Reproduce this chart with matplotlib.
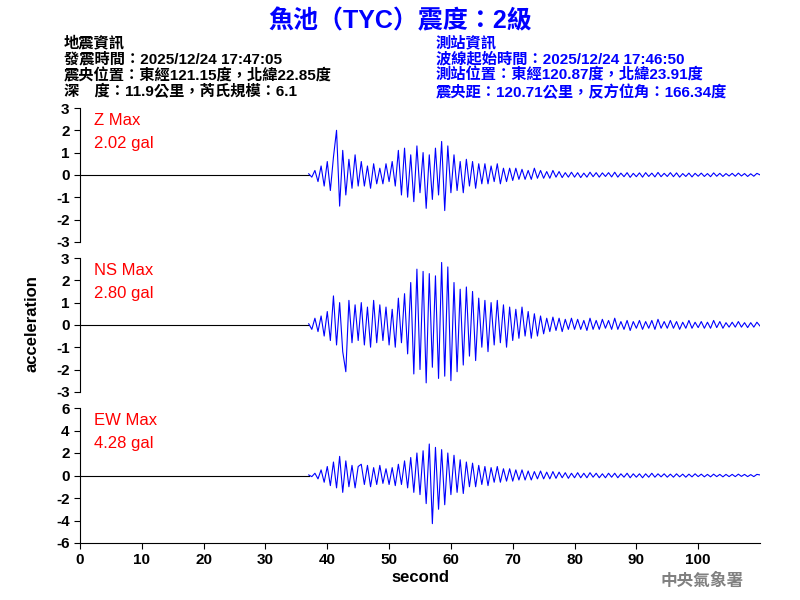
import numpy as np
import matplotlib.pyplot as plt

plt.rcParams['font.family'] = ['Liberation Sans', 'Noto Sans CJK TC', 'DejaVu Sans']
plt.rcParams['axes.unicode_minus'] = False
plt.rcParams['font.weight'] = 'bold'
plt.rcParams['axes.labelweight'] = 'bold'

t_start, dt = 37.0, 0.5

z_vals = [0.05, -0.1, 0.2, -0.3, 0.4, -0.5, 0.6,
          -0.7, 0.8, 2.0, -1.4, 1.1, -0.9, 0.7, -0.6, 0.9, -0.5,
          0.6, -0.5, 0.4, -0.6, 0.5, -0.4, 0.3, -0.4, 0.5, -0.3,
          0.6, -0.5, 1.1, -0.9, 1.2, -1.0, 0.9, -1.2, 1.3, -0.8,
          1.0, -1.5, 0.9, -1.1, 1.2, -0.9, 1.5, -1.6, 1.3, -0.8,
          0.9, -0.7, 0.6, -0.8, 0.7, -0.5, 0.6, -0.6, 0.5, -0.4,
          0.5, -0.4, 0.4, -0.3, 0.5, -0.4, 0.3, -0.3, 0.3, -0.25,
          0.3, -0.2, 0.25, -0.2, 0.2, -0.2, 0.3, -0.15, 0.2, -0.15,
          0.15, -0.15, 0.2, -0.1, 0.15, -0.12, 0.1, -0.1, 0.12, -0.1,
          0.1, -0.12, 0.08, -0.1, 0.12, -0.08, 0.1, -0.1, 0.09, -0.07,
          0.1, -0.09, 0.12, -0.1, 0.08, -0.08, 0.1, -0.11, 0.07, -0.08,
          0.09, -0.1, 0.1, -0.07, 0.08, -0.09, 0.11, -0.08, 0.07, -0.07,
          0.1, -0.08, 0.09, -0.1, 0.06, -0.07, 0.08, -0.09, 0.07, -0.06,
          0.08, -0.07, 0.06, -0.08, 0.09, -0.06, 0.07, -0.07, 0.06, -0.05,
          0.07, -0.06, 0.08, -0.05, 0.06, -0.07, 0.05, -0.06, 0.07, 0.0]

ns_vals = [0.05, -0.2, 0.3, -0.3, 0.4, -0.5, 0.6,
           -0.7, 1.3, -0.9, 1.0, -1.2, -2.1, 1.1, -0.8, 0.9, -0.7,
           1.0, -0.9, 0.8, -1.0, 1.1, -0.8, 0.9, -0.7, 0.8, -0.9,
           0.7, -1.0, 1.2, -0.8, 1.4, -1.3, 1.9, -2.2, 2.5, -2.0,
           2.4, -2.6, 2.3, -1.9, 2.2, -2.4, 2.8, -2.3, 2.6, -2.5,
           1.9, -2.1, 1.6, -1.8, 1.7, -1.4, 1.5, -1.6, 1.2, -1.0,
           1.1, -1.2, 1.0, -0.9, 1.1, -0.8, 0.9, -1.0, 0.8, -0.7,
           0.7, -0.6, 0.8, -0.5, 0.6, -0.6, 0.5, -0.5, 0.4, -0.4,
           0.3, -0.3, 0.35, -0.25, 0.3, -0.3, 0.25, -0.2, 0.3, -0.2,
           0.25, -0.2, 0.2, -0.25, 0.3, -0.2, 0.2, -0.2, 0.25, -0.15,
           0.2, -0.2, 0.3, -0.2, 0.15, -0.2, 0.2, -0.25, 0.15, -0.15,
           0.2, -0.2, 0.15, -0.15, 0.2, -0.2, 0.25, -0.15, 0.15, -0.15,
           0.2, -0.15, 0.15, -0.2, 0.12, -0.15, 0.2, -0.15, 0.12, -0.12,
           0.15, -0.15, 0.12, -0.15, 0.2, -0.12, 0.15, -0.15, 0.1, -0.1,
           0.12, -0.1, 0.15, -0.1, 0.1, -0.12, 0.1, -0.1, 0.12, -0.05]

ew_vals = [0.05, -0.1, 0.2, -0.3, 0.5, -0.6, 0.8,
           -0.9, 1.2, -1.1, 1.7, -1.5, 1.3, -1.0, 0.9, -1.1, 0.8,
           1.0, -0.8, 0.9, -1.0, 0.7, -0.8, 0.9, -0.7, 0.6, -0.8,
           0.7, -0.9, 1.0, -0.8, 1.3, -1.1, 1.6, -1.5, 2.0, -1.7,
           2.2, -2.5, 2.8, -4.28, 2.5, -3.0, 2.3, -2.6, 2.0, -1.7,
           1.8, -1.5, 1.4, -1.6, 1.2, -1.0, 1.1, -1.0, 0.9, -0.8,
           0.8, -0.9, 0.7, -0.6, 0.8, -0.6, 0.6, -0.5, 0.6, -0.5,
           0.5, -0.4, 0.5, -0.4, 0.4, -0.4, 0.35, -0.3, 0.4, -0.3,
           0.3, -0.3, 0.35, -0.25, 0.3, -0.2, 0.25, -0.25, 0.2, -0.2,
           0.25, -0.2, 0.2, -0.2, 0.25, -0.15, 0.2, -0.2, 0.15, -0.2,
           0.2, -0.15, 0.2, -0.2, 0.15, -0.15, 0.2, -0.2, 0.15, -0.15,
           0.15, -0.2, 0.15, -0.15, 0.2, -0.15, 0.15, -0.12, 0.15, -0.15,
           0.12, -0.15, 0.15, -0.12, 0.12, -0.15, 0.12, -0.12, 0.15, -0.1,
           0.12, -0.12, 0.1, -0.12, 0.12, -0.1, 0.1, -0.12, 0.1, -0.1,
           0.1, -0.1, 0.12, -0.08, 0.1, -0.1, 0.08, -0.1, 0.1, 0.05]

panels = [("Z Max", "2.02 gal", z_vals, 3, [-3, -2, -1, 0, 1, 2, 3]),
          ("NS Max", "2.80 gal", ns_vals, 3, [-3, -2, -1, 0, 1, 2, 3]),
          ("EW Max", "4.28 gal", ew_vals, 6, [-6, -4, -2, 0, 2, 4, 6])]

fig = plt.figure(figsize=(8, 6), dpi=100)
boxes = [(0.82, 0.597), (0.57, 0.347), (0.32, 0.095)]

for (name, mx, vals, lim, ticks), (top, bot) in zip(panels, boxes):
    ax = fig.add_axes([0.1, bot, 0.85, top - bot])
    t = t_start + dt * np.arange(len(vals))
    ax.plot([0, t_start], [0, 0], color='black', lw=0.8)
    ax.plot(t, vals, color='blue', lw=0.8)
    ax.set_xlim(0, 110)
    ax.set_ylim(-lim, lim)
    ax.set_yticks(ticks)
    ax.tick_params(labelsize=11, length=4)
    for s in ['top', 'right']:
        ax.spines[s].set_visible(False)
    if bot > 0.1:
        ax.spines['bottom'].set_visible(False)
        ax.set_xticks([])
    else:
        ax.set_xticks(range(0, 101, 10))
        ax.set_xlabel('second', fontsize=12, labelpad=2)
    ax.text(0.02, 0.96, name, transform=ax.transAxes, color='red', fontsize=12, va='top',
            fontweight='normal')
    ax.text(0.02, 0.79, mx, transform=ax.transAxes, color='red', fontsize=12, va='top',
            fontweight='normal')

fig.text(0.04, 0.46, 'acceleration', rotation=90, ha='center', va='center', fontsize=12)

fig.text(0.5, 0.965, '魚池（TYC）震度：2級', color='blue', fontsize=18,
         fontweight='bold', ha='center', va='center')
left = ['地震資訊', '發震時間：2025/12/24 17:47:05', '震央位置：東經121.15度，北緯22.85度',
        '深　度：11.9公里，芮氏規模：6.1']
right = ['測站資訊', '波線起始時間：2025/12/24 17:46:50', '測站位置：東經120.87度，北緯23.91度',
         '震央距：120.71公里，反方位角：166.34度']
for i, (a, b) in enumerate(zip(left, right)):
    y = 0.928 - i * 0.027
    fig.text(0.08, y, a, fontsize=11, va='center')
    fig.text(0.545, y, b, fontsize=11, va='center', color='blue')

fig.text(0.93, 0.032, '中央氣象署', color='gray', fontsize=12, ha='right', va='center',
         family=['Noto Sans CJK TC'], fontweight='bold')

fig.savefig('out.png', dpi=100)
